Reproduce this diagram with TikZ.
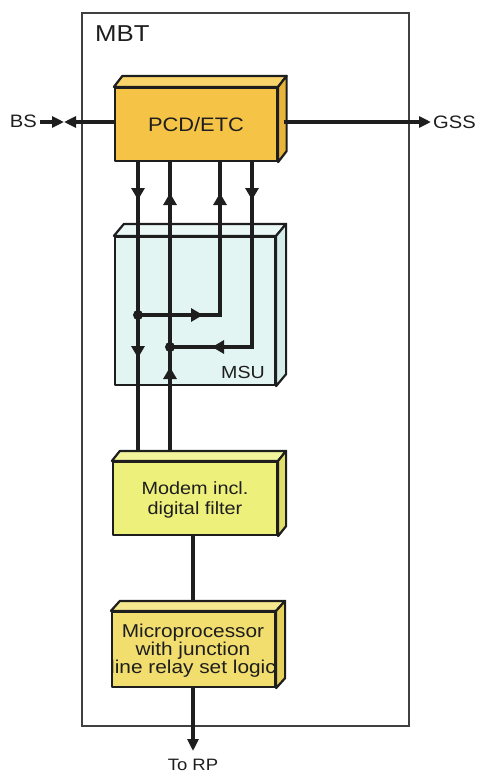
\documentclass[tikz,border=0pt]{standalone}
\usepackage{fontspec}
\setmainfont[FakeStretch=1.12]{Liberation Sans}
\usetikzlibrary{arrows.meta,calc,decorations.markings}

\definecolor{pcdF}{HTML}{F5C447}
\definecolor{pcdT}{HTML}{F8D46A}
\definecolor{pcdS}{HTML}{E9B43A}
\definecolor{msuF}{HTML}{E2F5F3}
\definecolor{msuT}{HTML}{EAF8F6}
\definecolor{msuS}{HTML}{D5EDEA}
\definecolor{modF}{HTML}{EEF07C}
\definecolor{modT}{HTML}{F3F39C}
\definecolor{modS}{HTML}{DEDE68}
\definecolor{micF}{HTML}{F2DE6E}
\definecolor{micT}{HTML}{F6E88E}
\definecolor{micS}{HTML}{E6D05C}
\definecolor{ink}{HTML}{1E1E1E}

\tikzset{
  conn/.style={line width=3.6pt, draw=ink},
  tipend/.style={-{Triangle[length=12pt,width=11pt]}},
  midarrow/.style={postaction={decorate,decoration={markings,
      mark=at position #1 with {\arrow{Triangle[length=12pt,width=13pt]}}}}},
  face/.style={draw=ink, line width=2.2pt, line join=round},
  frontbox/.style={face, inner sep=0pt, align=center},
  jdot/.style={circle, fill=ink, inner sep=0pt, minimum size=10pt},
  lbl/.style={font=\fontsize{18}{20}\selectfont, inner sep=0pt, text=ink},
  outerbox/.style={draw=ink!85, line width=1.5pt},
}

\newcommand\boxfaces[5]{%
  \filldraw[face, fill=#4] (#1.north west) -- ++(#2,#3) -- ($(#1.north east)+(#2,#3)$) -- (#1.north east) -- cycle;
  \filldraw[face, fill=#5] (#1.north east) -- ++(#2,#3) -- ($(#1.south east)+(#2,#3)$) -- (#1.south east) -- cycle;
}

\begin{document}
\begin{tikzpicture}[x=1pt,y=-1pt]
\useasboundingbox (0,0) rectangle (480,774);

% outer MBT frame
\draw[outerbox] (82,13) rectangle (409,726);
\node[lbl, font=\fontsize{23}{25}\selectfont, anchor=west] (mbt) at (95,34) {MBT};

% MSU box (lines are drawn over it)
\node[frontbox, fill=msuF, minimum width=160pt, minimum height=148pt] (msu) at (195,311) {};
\boxfaces{msu}{10}{-12}{msuT}{msuS}
\node[lbl, font=\fontsize{17.5}{20}\selectfont, anchor=south east] (msulbl) at (265,379) {MSU};

% junction coordinates
\coordinate (j1) at (138,315);
\coordinate (j2) at (170,347);
\coordinate (l1t) at (138,161);
\coordinate (l1b) at (138,458);
\coordinate (l2t) at (170,161);
\coordinate (l2b) at (170,458);
\coordinate (l3c) at (220,315);
\coordinate (l3t) at (220,161);
\coordinate (l4t) at (252,161);
\coordinate (l4c) at (252,347);

% connectors between PCD, MSU and modem
\draw[conn, midarrow=39pt, midarrow=197pt] (l1t) -- (l1b);
\draw[conn, midarrow=91pt, midarrow=265pt] (l2b) -- (l2t);
\draw[conn, midarrow=65pt, midarrow=204pt] (j1) -- (l3c) -- (l3t);
\draw[conn, midarrow=39pt, midarrow=226pt] (l4t) -- (l4c) -- (j2);
\node[jdot] (d1) at (j1) {};
\node[jdot] (d2) at (j2) {};

% modem to microprocessor, microprocessor to RP
\coordinate (mm1) at (193,535);
\coordinate (mm2) at (193,612);
\draw[conn] (mm1) -- (mm2);
\coordinate (rp1) at (193,687);
\coordinate (rp2) at (193,751);
\draw[conn, tipend] (rp1) -- (rp2);
\node[lbl, font=\fontsize{16.5}{18}\selectfont] (rp) at (193,764.5) {To RP};

% BS and GSS
\node[lbl, anchor=east] (bs) at (37,121) {BS};
\node[lbl, anchor=west] (gss) at (433,122) {GSS};
\coordinate (bsm) at (64,122);
\coordinate (pcdw) at (115,122);
\coordinate (pcde) at (284,122);
\coordinate (gssp) at (431,122);
\draw[conn, tipend] (40,122) -- (bsm);
\draw[conn, tipend] (pcdw) -- (bsm);

% PCD/ETC box
\node[frontbox, fill=pcdF, minimum width=162pt, minimum height=73pt,
      font=\fontsize{19.5}{22}\selectfont, text=ink] (pcd) at (196,124.5) {PCD/ETC};
\boxfaces{pcd}{8.5}{-11}{pcdT}{pcdS}
\draw[conn, tipend] (pcde) -- (gssp);

% Modem box
\node[frontbox, fill=modF, minimum width=164pt, minimum height=73pt] (modem) at (195,498.5) {};
\boxfaces{modem}{8}{-10}{modT}{modS}
\node[lbl, font=\fontsize{17.7}{20}\selectfont, align=center] (modemtxt) at (195,500) {Modem incl.\\digital filter};

% Microprocessor box (text clipped by the front face)
\node[frontbox, fill=micF, minimum width=163pt, minimum height=75pt] (micro) at (193.5,649.5) {};
\boxfaces{micro}{9}{-10}{micT}{micS}
\begin{scope}
  \clip (micro.south west) rectangle (micro.north east);
  \node[lbl, font=\fontsize{18.6}{18}\selectfont, align=center] (microtxt) at (193,651) {Microprocessor\\with junction\\line relay set logic};
\end{scope}
\end{tikzpicture}
\end{document}
